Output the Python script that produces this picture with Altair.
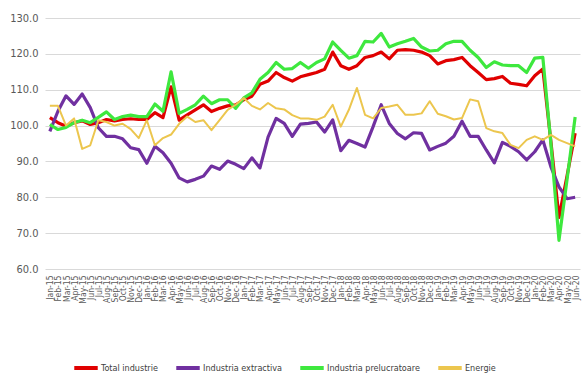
import altair as alt
import pandas as pd

MONTHS = ["Jan", "Feb", "Mar", "Apr", "May", "Jun", "Jul", "Aug", "Sep", "Oct", "Nov", "Dec"]
YEARS = ["15", "16", "17", "18", "19", "20"]
labels = [f"{m}-{y}" for y in YEARS for m in MONTHS][:66]

total_industrie = [
    102.2, 100.8, 99.8, 100.8, 101.3, 100.3, 100.8, 101.7, 101.3, 101.7, 101.9, 101.7,
    101.7, 103.6, 102.2, 110.8, 101.5, 103.0, 104.4, 105.8, 103.9, 104.8, 105.5, 105.8,
    107.2, 108.2, 111.5, 112.4, 114.8, 113.4, 112.4, 113.6, 114.2, 114.8, 115.7, 120.5,
    116.7, 115.7, 116.7, 119.0, 119.5, 120.5, 118.6, 121.0, 121.2, 121.0, 120.5, 119.5,
    117.2, 118.1, 118.4, 119.0, 116.7, 114.8, 112.8, 113.1, 113.7, 111.8, 111.5, 111.1,
    113.9, 115.8, 95.5, 74.4, 86.0, 97.9,
]
industria_extractiva = [
    98.4, 104.0, 108.3, 105.9, 108.8, 105.0, 99.4, 97.0, 97.0, 96.3, 93.8, 93.3,
    89.5, 94.2, 92.4, 89.5, 85.4, 84.3, 85.0, 85.9, 88.7, 87.8, 90.1, 89.2,
    88.0, 91.0, 88.2, 96.8, 102.0, 100.6, 97.0, 100.4, 100.6, 101.0, 98.2, 101.6,
    93.0, 95.9, 95.0, 94.0, 99.7, 105.8, 100.6, 97.8, 96.3, 98.0, 97.8, 93.2,
    94.2, 95.1, 97.0, 101.2, 97.0, 97.0, 93.2, 89.6, 95.3, 94.2, 92.7, 90.4,
    92.7, 96.0, 88.5, 82.9, 79.6, 80.0,
]
industria_prelucratoare = [
    100.3, 98.9, 99.5, 100.8, 101.5, 100.8, 102.3, 103.8, 101.7, 102.5, 102.9, 102.5,
    102.5, 106.0, 104.0, 115.0, 103.4, 104.5, 105.8, 108.2, 106.1, 107.2, 107.2, 104.8,
    107.7, 109.1, 112.9, 114.8, 117.6, 115.7, 115.9, 117.6, 116.0, 117.6, 118.6, 123.3,
    121.0, 118.8, 119.5, 123.5, 123.3, 125.7, 121.9, 122.8, 123.5, 124.3, 121.9, 120.8,
    121.0, 122.8, 123.5, 123.5, 121.0, 119.0, 116.2, 117.8, 116.9, 116.7, 116.7, 114.8,
    118.8, 119.0, 95.0, 68.0, 85.0, 102.4,
]
energie = [
    105.5, 105.5, 100.0, 102.0, 93.5, 94.5, 101.5, 101.0, 100.0, 100.5, 99.0, 96.5,
    101.5, 94.5, 96.5, 97.5, 100.5, 102.5, 101.0, 101.5, 98.7, 101.5, 104.4, 105.8,
    107.7, 105.5, 104.5, 106.3, 104.8, 104.5, 102.9, 102.0, 102.0, 101.6, 102.5, 105.8,
    99.7, 104.4, 110.5, 103.0, 102.0, 104.9, 105.3, 105.8, 103.0, 103.0, 103.4, 106.8,
    103.3, 102.6, 101.7, 102.1, 107.3, 106.8, 99.3, 98.4, 97.9, 94.6, 93.7, 96.0,
    97.0, 96.0, 97.4, 96.0, 95.1, 94.2,
]

series_names = ["Total industrie", "Industria extractiva", "Industria prelucratoare", "Energie"]
series_values = [total_industrie, industria_extractiva, industria_prelucratoare, energie]
series_colors = ["#e00000", "#7030a0", "#3ee83e", "#ecc64e"]
series_widths = [3.2, 3.2, 3.2, 2]

rows = []
for name, vals in zip(series_names, series_values):
    for lab, v in zip(labels, vals):
        rows.append({"month": lab, "series": name, "value": v})
df = pd.DataFrame(rows)

FONT = "DejaVu Sans Condensed, Liberation Sans, sans-serif"

color = alt.Color(
    "series:N",
    scale=alt.Scale(domain=series_names, range=series_colors),
    sort=series_names,
    legend=alt.Legend(
        title=None,
        orient="none",
        direction="horizontal",
        legendX=27,
        legendY=336,
        symbolType="stroke",
        symbolSize=550,
        symbolStrokeWidth=4,
        labelFont=FONT,
        labelFontSize=9,
        labelColor="#404040",
        columnPadding=10,
        labelOffset=1,
    ),
)

x = alt.X(
    "month:O",
    sort=labels,
    scale=alt.Scale(type="point", padding=0.6),
    axis=alt.Axis(
        title=None,
        labelAngle=-90,
        labelFont=FONT,
        labelFontSize=8.5,
        labelColor="#595959",
        labelPadding=6,
        ticks=False,
        domain=False,
        grid=False,
    ),
)
y = alt.Y(
    "value:Q",
    scale=alt.Scale(domain=[60, 130], nice=False, zero=False),
    axis=alt.Axis(
        title=None,
        values=[60, 70, 80, 90, 100, 110, 120, 130],
        format=".1f",
        labelFont=FONT,
        labelFontSize=11,
        labelColor="#595959",
        labelPadding=7,
        ticks=False,
        domain=False,
        gridColor="#d9d9d9",
        gridWidth=1,
    ),
)

layers = []
for name, w in zip(series_names, series_widths):
    layers.append(
        alt.Chart(df)
        .transform_filter(alt.datum.series == name)
        .mark_line(strokeWidth=w, strokeJoin="round")
        .encode(x=x, y=y, color=color)
    )

chart = (
    alt.layer(*layers)
    .properties(
        width=535,
        height=251,
        autosize=alt.AutoSizeParams(type="none"),
        padding={"left": 45, "top": 18, "right": 3, "bottom": 118},
        background="white",
    )
    .configure_view(stroke=None)
)

chart.save("out.html", embed_options={"renderer": "svg", "actions": False})
